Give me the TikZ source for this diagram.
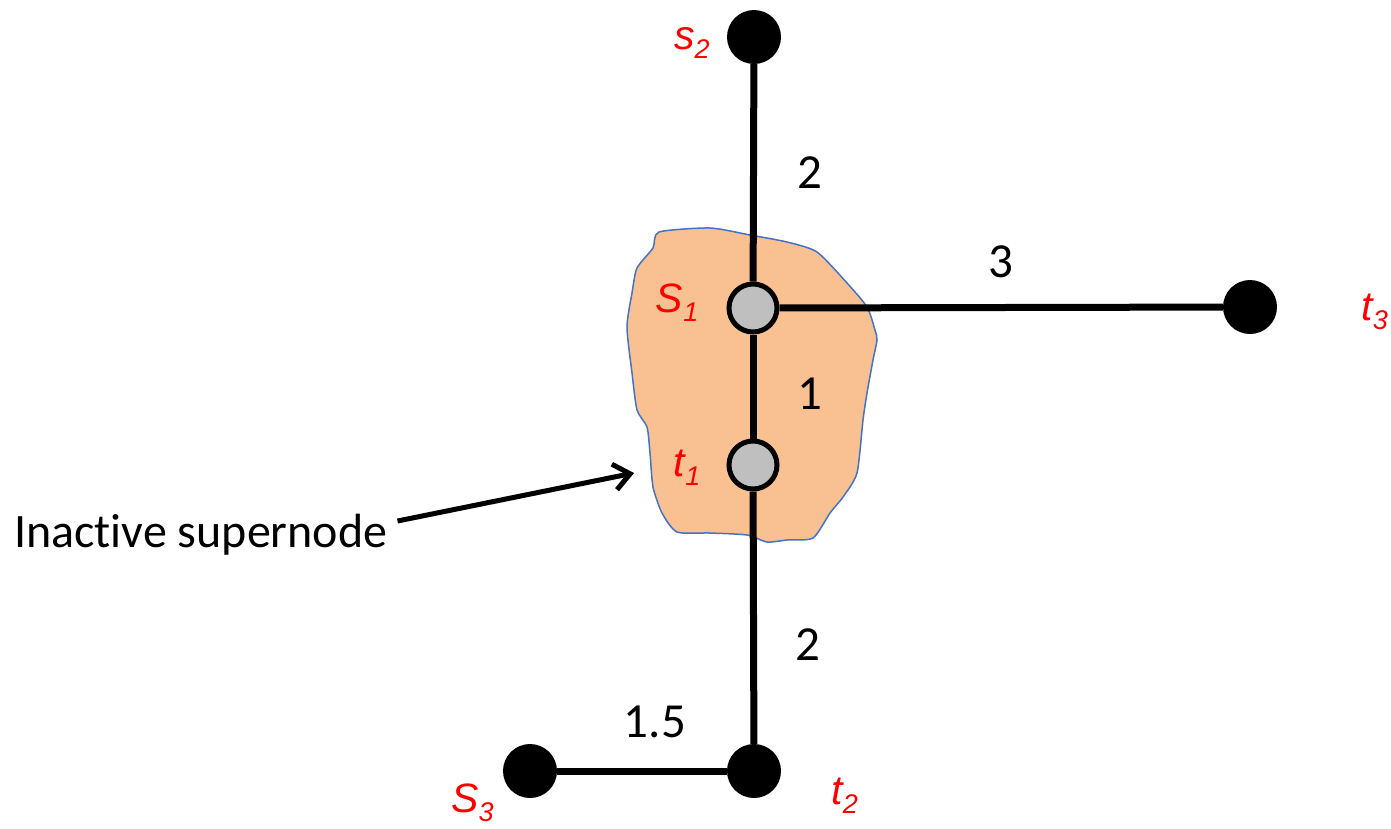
\documentclass[tikz,border=0pt]{standalone}
\usepackage{fontspec}
\setmainfont[Ligatures=NoCommon]{Carlito}
\newfontfamily\termfont{Liberation Sans}
\usetikzlibrary{positioning,arrows.meta}
\definecolor{blobfill}{RGB}{249,193,146}
\definecolor{blobline}{RGB}{68,114,196}
% red terminal name with its index
\newcommand{\term}[2]{{\termfont\itshape\fontsize{41}{42}\selectfont #1\raisebox{-9pt}{\fontsize{27}{28}\selectfont #2}}}
\tikzset{
  vertex/.style={ % active terminal
    circle, fill=black, minimum size=54pt, inner sep=0pt
  },
  supervertex/.style={ % terminal merged into the supernode
    circle, draw=black, line width=5pt, fill=gray!50,
    minimum size=48pt, inner sep=0pt
  },
  edge/.style={line width=7pt, black},
  weight/.style={font=\fontsize{49}{50}\selectfont, inner sep=0pt},
  lbl/.style={text=red, inner sep=0pt}
}

\begin{document}
\begin{tikzpicture}[x=1pt, y=-1pt]
  \useasboundingbox (0,0) rectangle (1391,828);

  % the supernode
  \draw[blobline, line width=1.5pt, fill=blobfill] plot[smooth cycle, tension=0.4] coordinates {
    (659,232) (710,228) (750,235) (787,242) (817,252) (847,283) (867,307)
    (875,330) (877,340) (873,360) (867,393) (863,420) (857,473) (843,497)
    (830,513) (813,538) (787,540) (767,542) (747,535) (710,533) (677,532)
    (662,513) (653,487) (650,453) (647,427) (637,410) (632,373) (627,327)
    (632,293) (637,268) (653,248)};

  \node[vertex] (s2) at (754,37) {};
  \node[supervertex] (s1) at (753,308) {};
  \node[supervertex] (t1) at (753,465) {};
  \node[vertex] (t2) at (754,771) {};
  \node[vertex] (s3) at (530,771) {};
  \node[vertex] (t3) at (1250,307) {};

  \node[lbl, left=17pt of s2, yshift=-6pt] (s2_label) {\term{s}{2}};
  \node[lbl, left=28pt of s1, yshift=5pt] (s1_label) {\term{S}{1}};
  \node[lbl, left=26pt of t1, yshift=-3pt] (t1_label) {\term{t}{1}};
  \node[lbl, right=84pt of t3, yshift=-5pt] (t3_label) {\term{t}{3}};
  \node[lbl, below left=-7pt and 17pt of s3] (s3_label) {\term{S}{3}};
  \node[lbl, below right=-12pt and 58pt of t2] (t2_label) {\term{t}{2}};

  \draw[edge] (s2) -- node[weight, xshift=56pt] {2} (s1);
  \draw[edge] (s1) -- node[weight, yshift=46pt] {3} (t3);
  \draw[edge] (s1) -- node[weight, xshift=57pt, yshift=-7pt] {1} (t1);
  \draw[edge] (t1) -- node[weight, xshift=54pt, yshift=-27pt] {2} (t2);
  \draw[edge] (s3) -- node[weight, xshift=13pt, yshift=49pt] {1.5} (t2);

  \node[font=\fontsize{48}{50}\selectfont, anchor=base west, inner sep=0pt] (inactive) at (14,547) {Inactive supernode};
  \coordinate (blob_pt) at (634,473);
  \draw[line width=5pt, -{Straight Barb[length=16pt, width=26pt]}]
    ([shift={(10pt,26pt)}]inactive.base east) -- (blob_pt);
\end{tikzpicture}
\end{document}
